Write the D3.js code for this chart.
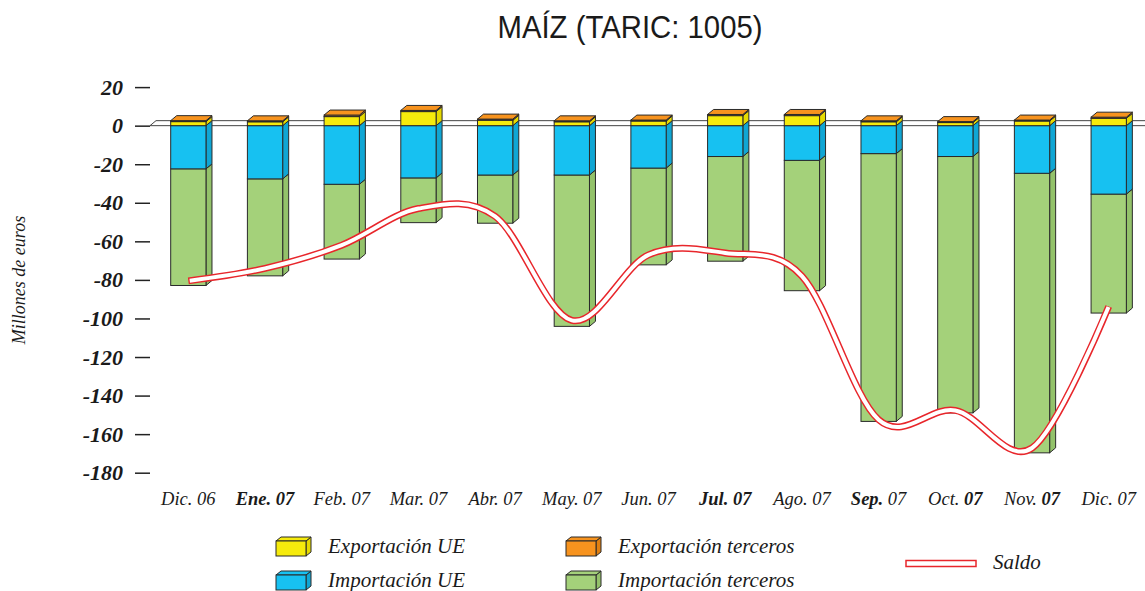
<!DOCTYPE html>
<html>
<head>
<meta charset="utf-8">
<script src="https://cdn.jsdelivr.net/npm/d3@7"></script>
<style>
  body { margin: 0; background: #fff; }
  svg { display: block; }
</style>
</head>
<body>
<div id="chart"></div>
<script>
// Datos (millones de euros)
const months = ['Dic. 06', 'Ene. 07', 'Feb. 07', 'Mar. 07', 'Abr. 07', 'May. 07', 'Jun. 07',
                'Jul. 07', 'Ago. 07', 'Sep. 07', 'Oct. 07', 'Nov. 07', 'Dic. 07'];
// which part of each label is bold: [month, year]
const monthBold = [[0, 0], [1, 1], [0, 0], [0, 0], [0, 0], [0, 0], [0, 0],
                   [1, 1], [0, 0], [1, 0], [0, 1], [0, 1], [0, 0]];
const expUE  = [2.1, 2.0, 4.7, 7.3, 2.8, 2.0, 2.4, 5.2, 5.2, 2.0, 1.6, 2.4, 3.8];
const expTer = [0.5, 0.5, 0.8, 0.6, 0.6, 0.5, 0.5, 0.6, 0.6, 0.5, 0.5, 0.5, 0.6];
const impUE  = [-22.4, -27.6, -30.4, -27.1, -25.6, -25.6, -22.0, -16.0, -18.0, -14.5, -16.0, -24.7, -35.5];
const impTer = [-60.5, -50.3, -38.8, -23.2, -25.0, -78.5, -50.2, -54.3, -67.6, -138.9, -133.0, -145.0, -61.7];
const saldo  = [-80.5, -74, -62, -43, -47, -101, -67, -66, -78, -152.5, -147.7, -167.2, -93.8];
const yTicks = [20, 0, -20, -40, -60, -80, -100, -120, -140, -160, -180];

const colors = {
    expUE:  { front: '#f6eb0c', side: '#e6da00', top: '#f6eb0c' },
    expTer: { front: '#f7931e', side: '#e07f10', top: '#f7931e' },
    impUE:  { front: '#17c1f1', side: '#10a6d4', top: '#17c1f1' },
    impTer: { front: '#a4d17a', side: '#93c26a', top: '#a4d17a' }
};

const width = 1145, height = 591;
const dx = 6, dy = 5;
const edge = '#2a2a2a';
const serif = '"Liberation Serif", "Times New Roman", serif';

const svg = d3.select('#chart').append('svg')
    .attr('width', width)
    .attr('height', height);

const x = d3.scaleBand()
    .domain(months)
    .range([132.35, 1164.7])
    .paddingInner(0.54)
    .paddingOuter(0.5);
const bw = x.bandwidth();

const y = d3.scaleLinear()
    .domain([-180, 20])
    .range([472.7, 87.1]);

// Title
svg.append('text')
    .attr('x', 630).attr('y', 38)
    .attr('text-anchor', 'middle')
    .attr('font-family', '"Liberation Sans", Arial, sans-serif')
    .attr('font-size', 32)
    .attr('textLength', 265)
    .attr('lengthAdjust', 'spacingAndGlyphs')
    .attr('fill', '#1a1a1a')
    .text('MAÍZ (TARIC: 1005)');

// Y axis
const yAxis = svg.append('g')
    .attr('transform', 'translate(150,0)')
    .call(d3.axisLeft(y).tickValues(yTicks).tickSize(15).tickPadding(12).tickFormat(d3.format('d')));
yAxis.select('.domain').remove();
yAxis.selectAll('.tick line').attr('stroke', '#222').attr('stroke-width', 1.5);
yAxis.selectAll('.tick text')
    .attr('font-family', serif)
    .attr('font-style', 'italic')
    .attr('font-weight', 'bold')
    .attr('font-size', 22)
    .attr('fill', '#1a1a1a')
    .text(d => d < 0 ? '-' + Math.abs(d) : d);

svg.append('text')
    .attr('transform', 'translate(25,280) rotate(-90)')
    .attr('text-anchor', 'middle')
    .attr('font-family', serif)
    .attr('font-style', 'italic')
    .attr('font-size', 18)
    .attr('fill', '#1a1a1a')
    .text('Millones de euros');

// 3D floor at zero
const y0 = y(0);
svg.append('path')
    .attr('d', `M150,${y0}H${width}M150,${y0}L${150 + dx},${y0 - dy}H${width}`)
    .attr('fill', 'none')
    .attr('stroke', '#444')
    .attr('stroke-width', 1);

// Bars
function box(g, x0, yTop, yBot, c, withTop) {
    const x1 = x0 + bw;
    g.append('polygon')
        .attr('points', [[x1, yTop], [x1 + dx, yTop - dy], [x1 + dx, yBot - dy], [x1, yBot]].join(' '))
        .attr('fill', c.side).attr('stroke', edge).attr('stroke-width', 1).attr('stroke-linejoin', 'round');
    g.append('rect')
        .attr('x', x0).attr('y', yTop)
        .attr('width', bw).attr('height', Math.max(0, yBot - yTop))
        .attr('fill', c.front).attr('stroke', edge).attr('stroke-width', 1);
    if (withTop) {
        g.append('polygon')
            .attr('points', [[x0, yTop], [x0 + dx, yTop - dy], [x1 + dx, yTop - dy], [x1, yTop]].join(' '))
            .attr('fill', c.top).attr('stroke', edge).attr('stroke-width', 1).attr('stroke-linejoin', 'round');
    }
}

const bars = svg.append('g');
months.forEach((m, i) => {
    const g = bars.append('g');
    const x0 = x(m);
    box(g, x0, y(impUE[i]), y(impUE[i] + impTer[i]), colors.impTer, false);
    box(g, x0, y(0), y(impUE[i]), colors.impUE, false);
    box(g, x0, y(expUE[i]), y(0), colors.expUE, false);
    box(g, x0, y(expUE[i] + expTer[i]), y(expUE[i]), colors.expTer, true);
});

// X axis labels
const xAxis = svg.append('g')
    .attr('transform', 'translate(0,489)')
    .call(d3.axisBottom(x).tickSize(0).tickPadding(3));
xAxis.select('.domain').remove();
xAxis.selectAll('.tick text')
    .attr('font-family', serif)
    .attr('font-style', 'italic')
    .attr('font-size', 18.5)
    .attr('fill', '#1a1a1a')
    .each(function(d, i) {
        const parts = d.split(' ');
        const t = d3.select(this).text(null);
        t.append('tspan').attr('font-weight', monthBold[i][0] ? 'bold' : 'normal').text(parts[0] + ' ');
        t.append('tspan').attr('font-weight', monthBold[i][1] ? 'bold' : 'normal').text(parts[1]);
    });

// Saldo line (double red line)
const line = d3.line()
    .x((d, i) => x(months[i]) + bw / 2)
    .y(d => y(d))
    .curve(d3.curveCardinal);

svg.append('path')
    .datum(saldo)
    .attr('d', line)
    .attr('fill', 'none')
    .attr('stroke', '#e8262b')
    .attr('stroke-width', 7);
const inner = svg.append('path')
    .datum(saldo)
    .attr('d', line)
    .attr('fill', 'none')
    .attr('stroke', '#fff')
    .attr('stroke-width', 4);
const L = inner.node().getTotalLength();
inner.attr('stroke-dasharray', `0,1.5,${L - 3},10`);

// Legend
const legendItems = [
    { label: 'Exportación UE', c: colors.expUE, x: 276, y: 541 },
    { label: 'Exportación terceros', c: colors.expTer, x: 566, y: 541 },
    { label: 'Importación UE', c: colors.impUE, x: 276, y: 575 },
    { label: 'Importación terceros', c: colors.impTer, x: 566, y: 575 }
];
const lw = 30, lh = 15, ldx = 5, ldy = 4;
const legend = svg.append('g');
legendItems.forEach(it => {
    const g = legend.append('g');
    g.append('polygon')
        .attr('points', [[it.x + lw, it.y], [it.x + lw + ldx, it.y - ldy], [it.x + lw + ldx, it.y + lh - ldy], [it.x + lw, it.y + lh]].join(' '))
        .attr('fill', it.c.side).attr('stroke', edge).attr('stroke-width', 1);
    g.append('polygon')
        .attr('points', [[it.x, it.y], [it.x + ldx, it.y - ldy], [it.x + lw + ldx, it.y - ldy], [it.x + lw, it.y]].join(' '))
        .attr('fill', it.c.top).attr('stroke', edge).attr('stroke-width', 1);
    g.append('rect')
        .attr('x', it.x).attr('y', it.y).attr('width', lw).attr('height', lh)
        .attr('fill', it.c.front).attr('stroke', edge).attr('stroke-width', 1);
    g.append('text')
        .attr('x', it.x + 52).attr('y', it.y + 12)
        .attr('font-family', serif)
        .attr('font-style', 'italic')
        .attr('font-size', 21)
        .attr('fill', '#1a1a1a')
        .text(it.label);
});

legend.append('rect')
    .attr('x', 906).attr('y', 560.5).attr('width', 70).attr('height', 6)
    .attr('fill', '#fff').attr('stroke', '#e8262b').attr('stroke-width', 1.5);
legend.append('text')
    .attr('x', 993).attr('y', 569)
    .attr('font-family', serif)
    .attr('font-style', 'italic')
    .attr('font-size', 21)
    .attr('fill', '#1a1a1a')
    .text('Saldo');
</script>
</body>
</html>
